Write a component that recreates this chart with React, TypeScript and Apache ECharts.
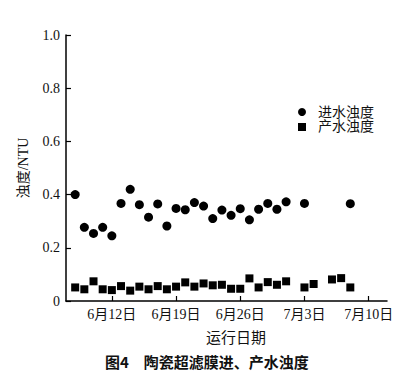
import React, { useEffect, useRef } from "react";
import * as echarts from "echarts";

// dates as "month-day"
const inletDates = [
  "6-8","6-9","6-10","6-11","6-12","6-13","6-14","6-15","6-16","6-17","6-18","6-19",
  "6-20","6-21","6-22","6-23","6-24","6-25","6-26","6-27","6-28","6-29","6-30",
  "7-1","7-3","7-8",
];
const inletValues = [
  0.40, 0.277, 0.254, 0.277, 0.245, 0.367, 0.42, 0.362, 0.315, 0.365, 0.282, 0.348,
  0.343, 0.37, 0.357, 0.31, 0.342, 0.322, 0.347, 0.305, 0.345, 0.367, 0.345,
  0.373, 0.367, 0.366,
];
const outletDates = [
  "6-8","6-9","6-10","6-11","6-12","6-13","6-14","6-15","6-16","6-17","6-18","6-19",
  "6-20","6-21","6-22","6-23","6-24","6-25","6-26","6-27","6-28","6-29","6-30",
  "7-1","7-3","7-4","7-6","7-7","7-8",
];
const outletValues = [
  0.051, 0.044, 0.074, 0.044, 0.041, 0.056, 0.039, 0.054, 0.044, 0.056, 0.044, 0.054,
  0.070, 0.054, 0.066, 0.059, 0.061, 0.046, 0.046, 0.085, 0.051, 0.071, 0.061,
  0.074, 0.051, 0.064, 0.081, 0.086, 0.051,
];
const xTickDays = ["6-12", "6-19", "6-26", "7-3", "7-10"];
const xRange = ["6-7", "7-12"];
const yTicks = [0, 0.2, 0.4, 0.6, 0.8, 1.0];
const seriesNames = ["进水浊度", "产水浊度"];
const xAxisName = "运行日期";
const yAxisName = "浊度/NTU";
const caption = "图4　陶瓷超滤膜进、产水浊度";

// day number: June d -> d, July d -> 30 + d
const toDay = (s: string) => {
  const [m, d] = s.split("-").map(Number);
  return m === 6 ? d : 30 + d;
};
const dayLabel = (v: number) => (v <= 30 ? `6月${v}日` : `7月${v - 30}日`);

const SERIF = '"Liberation Serif", "Noto Sans CJK SC", serif';

export default function App() {
  const ref = useRef<HTMLDivElement>(null);
  useEffect(() => {
    if (!ref.current) return;
    const chart = echarts.init(ref.current, undefined, { renderer: "svg" });
    const tickVals = xTickDays.map(toDay);
    chart.setOption({
      animation: false,
      backgroundColor: "#ffffff",
      grid: { left: 66, right: 25, top: 35, bottom: 89 },
      legend: {
        orient: "vertical",
        left: 293,
        top: 100,
        itemGap: 1,
        itemWidth: 14,
        itemHeight: 8,
        symbolKeepAspect: true,
        textStyle: { fontFamily: SERIF, fontSize: 14, color: "#111", padding: [0, 0, 0, 4] },
        data: [
          { name: seriesNames[0], icon: "circle", itemStyle: { opacity: 1 } },
          { name: seriesNames[1], icon: "path://M0,0L10,0L10,10L0,10Z", itemStyle: { opacity: 1 } },
        ],
      },
      xAxis: {
        type: "value",
        min: toDay(xRange[0]),
        max: toDay(xRange[1]),
        splitLine: { show: false },
        axisLine: { onZero: false, lineStyle: { color: "#000", width: 1.5 } },
        axisTick: {
          inside: true,
          length: 5,
          customValues: tickVals,
          lineStyle: { color: "#000", width: 1.2 },
        },
        axisLabel: {
          customValues: tickVals,
          formatter: (v: number) => dayLabel(v),
          color: "#111",
          fontFamily: SERIF,
          fontSize: 14,
          margin: 6,
        },
      },
      yAxis: {
        type: "value",
        min: 0,
        max: 1,
        interval: 0.2,
        name: yAxisName,
        nameLocation: "middle",
        nameGap: 36,
        nameTextStyle: { fontFamily: SERIF, fontSize: 14, color: "#111" },
        splitLine: { show: false },
        axisLine: { show: true, lineStyle: { color: "#000", width: 1.5 } },
        axisTick: { show: true, inside: true, length: 5, lineStyle: { color: "#000", width: 1.2 } },
        axisLabel: {
          formatter: (v: number) => (yTicks.includes(v) && v !== 0 ? v.toFixed(1) : "0"),
          color: "#111",
          fontFamily: SERIF,
          fontSize: 14,
          margin: 6,
        },
      },
      series: [
        {
          name: seriesNames[0],
          type: "scatter",
          symbol: "circle",
          symbolSize: 9,
          itemStyle: { color: "#000", opacity: 1 },
          data: inletDates.map((d, i) => [toDay(d), inletValues[i]]),
        },
        {
          name: seriesNames[1],
          type: "scatter",
          symbol: "rect",
          symbolSize: 8,
          itemStyle: { color: "#000", opacity: 1 },
          data: outletDates.map((d, i) => [toDay(d), outletValues[i]]),
        },
      ],
      graphic: [
        {
          type: "text",
          left: 206,
          top: 330,
          style: { text: xAxisName, fontFamily: SERIF, fontSize: 15, fill: "#111" },
        },
        {
          type: "text",
          left: 105,
          top: 354,
          style: {
            text: caption,
            fontFamily: '"Noto Sans CJK SC", sans-serif',
            fontWeight: "bold",
            fontSize: 15,
            fill: "#111",
          },
        },
      ],
    });
    return () => chart.dispose();
  }, []);
  return <div ref={ref} style={{ width: 412, height: 390, margin: -8 }} />;
}
